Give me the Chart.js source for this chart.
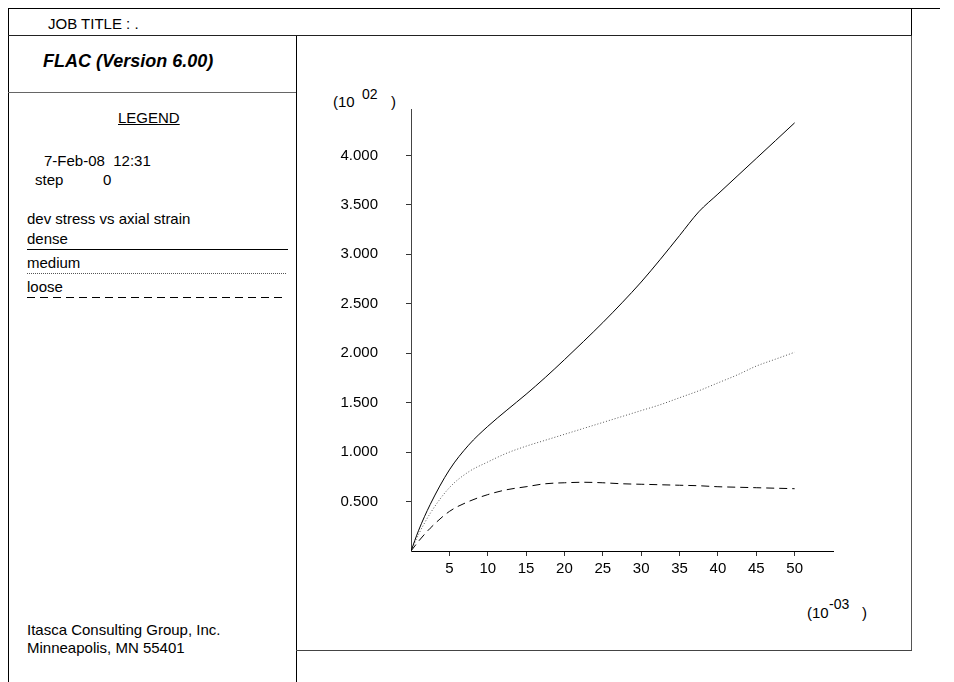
<!DOCTYPE html>
<html>
<head>
<meta charset="utf-8">
<script src="https://cdn.jsdelivr.net/npm/chart.js@4/dist/chart.umd.min.js"></script>
<style>
body { margin: 0; background: #fff; }
#pagina { position: relative; width: 954px; height: 682px; font-family: 'Liberation Sans', Arial, sans-serif; font-size: 15px; line-height: 15px; color: #000; }
.t { position: absolute; white-space: pre; }
.sup { position: absolute; white-space: pre; font-size: 14px; line-height: 14px; }
.ln { position: absolute; }
#grafico { position: absolute; left: 297px; top: 37px; }
</style>
</head>
<body>
<div id="pagina">
  <!-- moldura -->
  <div class="ln" style="left:8px; top:8px; width:932px; height:1px; background:#000"></div>
  <div class="ln" style="left:8px; top:8px; width:1px; height:674px; background:#000"></div>
  <div class="ln" style="left:911px; top:8px; width:1px; height:28px; background:#000"></div>
  <div class="ln" style="left:8px; top:35px; width:904px; height:1px; background:#222"></div>
  <div class="ln" style="left:296px; top:36px; width:1px; height:646px; background:#000"></div>
  <div class="ln" style="left:8px; top:92px; width:288px; height:1px; background:#666"></div>
  <div class="ln" style="left:911px; top:36px; width:1px; height:615px; background:#555"></div>
  <div class="ln" style="left:296px; top:650px; width:616px; height:1px; background:#444"></div>

  <div class="t" style="left:48px; top:16px">JOB TITLE : .</div>
  <div class="t" style="left:43px; top:52px; font-size:18px; line-height:18px; font-weight:bold; font-style:italic">FLAC (Version 6.00)</div>

  <div class="t" style="left:118px; top:110px; text-decoration:underline">LEGEND</div>
  <div class="t" style="left:44px; top:153px">7-Feb-08  12:31</div>
  <div class="t" style="left:35px; top:172px">step</div>
  <div class="t" style="left:103px; top:172px">0</div>
  <div class="t" style="left:27px; top:211px">dev stress vs axial strain</div>
  <div class="t" style="left:27px; top:231px">dense</div>
  <div class="ln" style="left:27px; top:249px; width:261px; height:1px; background:#000"></div>
  <div class="t" style="left:27px; top:255px">medium</div>
  <div class="ln" style="left:27px; top:273px; width:259px; height:0; border-top:1px dotted #555"></div>
  <div class="t" style="left:27px; top:279px">loose</div>
  <div class="ln" style="left:27px; top:297px; width:259px; height:1px; background:repeating-linear-gradient(to right, #000 0 8px, transparent 8px 13px)"></div>

  <div class="t" style="left:27px; top:622px">Itasca Consulting Group, Inc.</div>
  <div class="t" style="left:27px; top:640px">Minneapolis, MN 55401</div>

  <!-- rotulos de escala -->
  <div class="t" style="left:333px; top:94px">(10</div>
  <div class="sup" style="left:362px; top:87px">02</div>
  <div class="t" style="left:391px; top:94px">)</div>
  <div class="t" style="left:807px; top:605px">(10</div>
  <div class="sup" style="left:829px; top:597px">-03</div>
  <div class="t" style="left:862px; top:605px">)</div>

  <canvas id="grafico" width="614" height="613"></canvas>
</div>
<script>
const deformacao = [0, 1, 2.5, 5, 7.5, 10, 12.5, 15, 17.5, 20, 22.5, 25, 27.5, 30, 32.5, 35, 37.5, 40, 42.5, 45, 47.5, 50]
const denso = [0, 0.21, 0.47, 0.82, 1.07, 1.26, 1.425, 1.585, 1.755, 1.935, 2.12, 2.31, 2.51, 2.72, 2.95, 3.19, 3.43, 3.61, 3.79, 3.97, 4.15, 4.33]
const medio = [0, 0.17, 0.38, 0.64, 0.80, 0.90, 0.99, 1.06, 1.12, 1.18, 1.24, 1.30, 1.36, 1.42, 1.48, 1.55, 1.62, 1.70, 1.78, 1.87, 1.94, 2.01]
const fofo = [0, 0.10, 0.23, 0.40, 0.50, 0.57, 0.62, 0.65, 0.68, 0.69, 0.695, 0.69, 0.68, 0.675, 0.67, 0.665, 0.66, 0.65, 0.645, 0.64, 0.635, 0.63]
const ticksX = [5, 10, 15, 20, 25, 30, 35, 40, 45, 50]
const ticksY = [0.5, 1.0, 1.5, 2.0, 2.5, 3.0, 3.5, 4.0]

Chart.defaults.font.family = "'Liberation Sans', Arial, sans-serif"
Chart.defaults.font.size = 15
Chart.defaults.color = '#000'

function pares(valores) {
    return deformacao.map((x, i) => ({ x: x, y: valores[i] }))
}

const graficoTensao = new Chart(document.getElementById('grafico'), {
  type: 'line',
  data: {
    datasets: [{
      label: 'dense',
      data: pares(denso),
      borderColor: '#000',
      borderWidth: 1,
      pointRadius: 0,
      cubicInterpolationMode: 'monotone'
    }, {
      label: 'medium',
      data: pares(medio),
      borderColor: '#555',
      borderWidth: 1,
      borderDash: [1, 2],
      pointRadius: 0,
      cubicInterpolationMode: 'monotone'
    }, {
      label: 'loose',
      data: pares(fofo),
      borderColor: '#000',
      borderWidth: 1,
      borderDash: [8, 5],
      pointRadius: 0,
      cubicInterpolationMode: 'monotone'
    }]
  },
  options: {
    responsive: false,
    animation: false,
    layout: { padding: { top: 72, right: 78, left: 0, bottom: 0 } },
    plugins: { legend: { display: false }, tooltip: { enabled: false } },
    scales: {
      x: {
        type: 'linear',
        min: 0,
        max: 55,
        afterBuildTicks: s => { s.ticks = ticksX.map(v => ({ value: v })) },
        afterFit: s => { s.height = 99 },
        ticks: { autoSkip: false, maxRotation: 0, padding: 4, callback: v => v },
        grid: { drawOnChartArea: false, tickLength: 5, color: '#333' },
        border: { color: '#000' }
      },
      y: {
        type: 'linear',
        min: 0,
        max: 4.47,
        afterBuildTicks: s => { s.ticks = ticksY.map(v => ({ value: v })) },
        afterFit: s => { s.width = 114 },
        ticks: { autoSkip: false, padding: 28, callback: v => v.toFixed(3) },
        grid: { drawOnChartArea: false, tickLength: 5, color: '#333' },
        border: { color: '#444' }
      }
    }
  }
})
</script>
</body>
</html>
